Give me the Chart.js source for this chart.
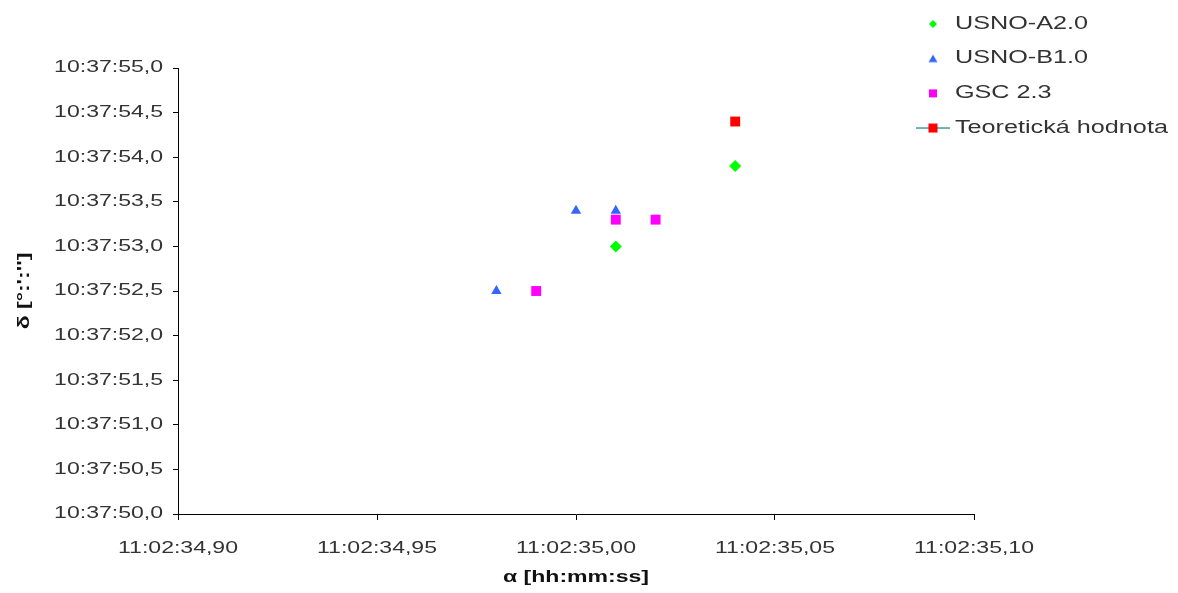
<!DOCTYPE html>
<html>
<head>
<meta charset="utf-8">
<script src="https://cdn.jsdelivr.net/npm/chart.js@4/dist/chart.umd.min.js"></script>
<style>
html,body{margin:0;padding:0;background:#fff;}
#wrap{width:1178px;height:593px;position:relative;}
</style>
</head>
<body>
<div id="wrap"><canvas id="c" width="1178" height="593"></canvas></div>
<script>
// Data (seconds part of α after 11:02, seconds part of δ after 10:37)
const seriesNames = ['USNO-A2.0', 'USNO-B1.0', 'GSC 2.3', 'Teoretická hodnota'];
const usnoA2X = [35.01, 35.04];
const usnoA2Y = [53.0, 53.9];
const usnoB1X = [34.98, 35.00, 35.01];
const usnoB1Y = [52.5, 53.4, 53.4];
const gscX = [34.99, 35.01, 35.02];
const gscY = [52.5, 53.3, 53.3];
const teorX = [35.04];
const teorY = [54.4];
const xTickPrefix = '11:02:';
const yTickPrefix = '10:37:';
const xTitle = 'α [hh:mm:ss]';
const yTitle = "δ [°:':'']";

const pts = (xs, ys) => xs.map((x, i) => ({x: x, y: ys[i]}));
const FONT = '"Liberation Sans", Arial, sans-serif';
const SX = 1.44; // the reference's text is drawn horizontally widened

const canvas = document.getElementById('c');
const ctx = canvas.getContext('2d');
(function widenText(c) {
  const ft = CanvasRenderingContext2D.prototype.fillText;
  const mt = CanvasRenderingContext2D.prototype.measureText;
  c.fillText = function (text, x, y, maxWidth) {
    this.save();
    this.translate(x, y);
    this.scale(SX, 1);
    ft.call(this, text, 0, 0);
    this.restore();
  };
  c.measureText = function (text) {
    const m = mt.call(this, text);
    return {
      width: m.width * SX,
      actualBoundingBoxLeft: m.actualBoundingBoxLeft * SX,
      actualBoundingBoxRight: m.actualBoundingBoxRight * SX,
      actualBoundingBoxAscent: m.actualBoundingBoxAscent,
      actualBoundingBoxDescent: m.actualBoundingBoxDescent,
      fontBoundingBoxAscent: m.fontBoundingBoxAscent,
      fontBoundingBoxDescent: m.fontBoundingBoxDescent
    };
  };
})(ctx);

function icon(kind, color) {
  const cv = document.createElement('canvas');
  cv.width = 34; cv.height = 12;
  const g = cv.getContext('2d');
  const cx = 17, cy = 6;
  if (kind === 'line') {
    g.strokeStyle = '#3c9a9a'; g.lineWidth = 1.5;
    g.beginPath(); g.moveTo(0, cy); g.lineTo(34, cy); g.stroke();
    g.fillStyle = color; g.fillRect(cx - 4.5, cy - 4.5, 9, 9);
  } else if (kind === 'rect') {
    g.fillStyle = color; g.fillRect(cx - 4, cy - 4, 8, 8);
  } else if (kind === 'diamond') {
    g.fillStyle = color; g.beginPath();
    g.moveTo(cx, cy - 4); g.lineTo(cx + 4, cy); g.lineTo(cx, cy + 4); g.lineTo(cx - 4, cy); g.closePath(); g.fill();
  } else if (kind === 'tri') {
    g.fillStyle = color; g.beginPath();
    g.moveTo(cx, cy - 4); g.lineTo(cx + 4.5, cy + 3.5); g.lineTo(cx - 4.5, cy + 3.5); g.closePath(); g.fill();
  }
  return cv;
}
const legendIcons = [icon('diamond', '#00ff00'), icon('tri', '#3366ff'), icon('rect', '#ff00ff'), icon('line', '#ff0000')];

const legendPlace = {
  id: 'legendPlace',
  afterLayout(c) {
    const L = c.legend;
    L.left = 902.5; L.top = -2; L.right = 1178; L.bottom = 200;
  }
};

new Chart(ctx, {
  type: 'scatter',
  data: {
    datasets: [
      {label: seriesNames[0], data: pts(usnoA2X, usnoA2Y), pointStyle: 'rectRot', pointRadius: 6, backgroundColor: '#00ff00', borderColor: '#00ff00', pointBorderWidth: 0, showLine: false},
      {label: seriesNames[1], data: pts(usnoB1X, usnoB1Y), pointStyle: 'triangle', pointRadius: 6, backgroundColor: '#3366ff', borderColor: '#3366ff', pointBorderWidth: 0, showLine: false},
      {label: seriesNames[2], data: pts(gscX, gscY), pointStyle: 'rect', pointRadius: 7, backgroundColor: '#ff00ff', borderColor: '#ff00ff', pointBorderWidth: 0, showLine: false},
      {label: seriesNames[3], data: pts(teorX, teorY), pointStyle: 'rect', pointRadius: 7, backgroundColor: '#ff0000', borderColor: '#3c9a9a', pointBorderColor: '#ff0000', pointBorderWidth: 0, showLine: true, borderWidth: 1.5}
    ]
  },
  options: {
    responsive: false,
    animation: false,
    layout: {padding: {left: 0, top: 68, right: 204, bottom: 0}},
    plugins: {
      tooltip: {enabled: false},
      legend: {
        position: 'chartArea',
        align: 'start',
        labels: {
          usePointStyle: true,
          pointStyleWidth: 26.5,
          padding: 17.2,
          color: '#333',
          font: {family: FONT, size: 17.5},
          generateLabels(chart) {
            const items = Chart.defaults.plugins.legend.labels.generateLabels(chart);
            items.forEach((it, i) => { it.pointStyle = legendIcons[i]; });
            return items;
          }
        }
      }
    },
    scales: {
      x: {
        type: 'linear',
        min: 34.90, max: 35.10,
        afterFit(s) { s.height = 79; },
        border: {color: '#000', width: 1},
        grid: {drawOnChartArea: false, color: '#000', tickLength: 6, tickWidth: 1},
        ticks: {
          stepSize: 0.05, padding: 19, color: '#333', maxRotation: 0, autoSkip: false,
          font: {family: FONT, size: 16},
          callback: v => xTickPrefix + Number(v).toFixed(2).replace('.', ',')
        },
        title: {display: true, text: xTitle, color: '#111', font: {family: FONT, size: 16, weight: 'bold'}, padding: {top: 0, bottom: 5.4}}
      },
      y: {
        type: 'linear',
        min: 50, max: 55,
        afterFit(s) { s.width = 178; },
        border: {color: '#000', width: 1},
        grid: {drawOnChartArea: false, color: '#000', tickLength: 5, tickWidth: 1},
        ticks: {
          stepSize: 0.5, padding: 10, color: '#333', autoSkip: false,
          font: {family: FONT, size: 16},
          callback: v => yTickPrefix + Number(v).toFixed(1).replace('.', ',')
        },
        title: {display: true, text: yTitle, color: '#111', font: {family: FONT, size: 16, weight: 'bold'}, padding: {top: 15.4, bottom: 0}}
      }
    }
  },
  plugins: [legendPlace]
});
</script>
</body>
</html>
